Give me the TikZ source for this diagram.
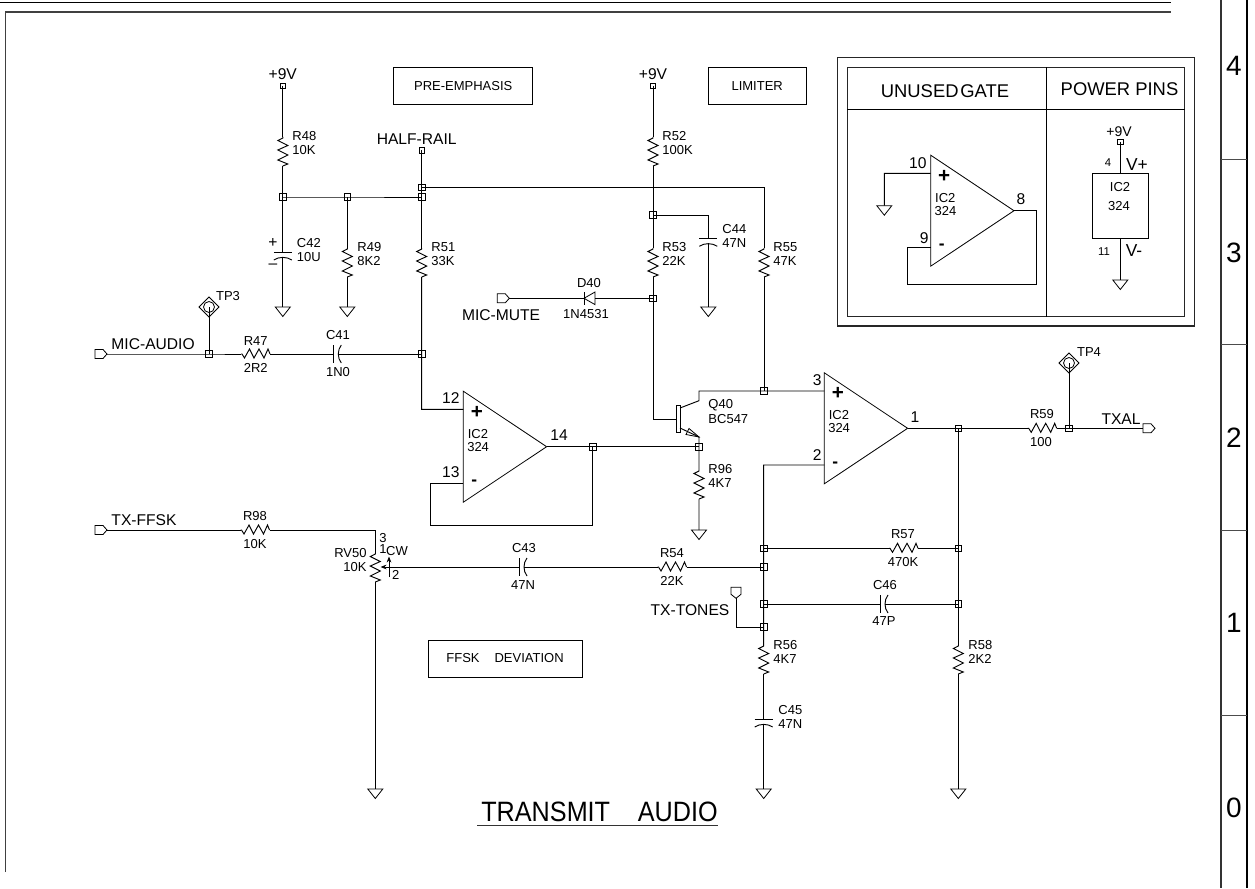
\documentclass[tikz,border=0pt]{standalone}
\usepackage{fontspec}
\setmainfont{Liberation Sans}
\usetikzlibrary{arrows.meta}
\newcommand{\fsm}{\fontsize{9.75}{11}\selectfont}
\newcommand{\fmd}{\fontsize{11.7}{13}\selectfont}
\newcommand{\flg}{\fontsize{13.8}{15}\selectfont}
\newcommand{\fdg}{\fontsize{21}{23}\selectfont}
\tikzset{
  every path/.style={line width=.7pt},
  junc/.style={draw,rectangle,inner sep=0,minimum size=5pt,line width=.55pt},
  supl/.style={draw,rectangle,inner sep=0,minimum size=4pt,line width=.55pt},
  lab/.style={inner sep=0,font=\fsm},
  med/.style={inner sep=0,font=\fmd},
  labbox/.style={draw,inner sep=0,font=\fsm,line width=.6pt},
  tiny arrow/.style={-{Stealth[length=4.5pt,width=3.5pt]}},
  resv/.pic={\coordinate (-a) at (0,0);\coordinate (-b) at (0,29);
    \draw (0,0)--(0,1)--(-5,3.5)--(5,8.5)--(-5,13)--(5,18)--(-5,23)--(5,27)--(0,29);},
  resh/.pic={\coordinate (-a) at (0,0);\coordinate (-b) at (29,0);
    \draw (0,0)--(1,0)--(3.5,4)--(8.5,-5)--(13,4)--(18,-5)--(23,4)--(27,-5)--(29,0);},
  capv/.pic={\coordinate (-a) at (0,0);\coordinate (-b) at (0,5);
    \draw (-9,0)--(9,0);\draw (-9,8) .. controls (-4,4.5) and (4,4.5) .. (9,8);},
  caph/.pic={\coordinate (-a) at (0,0);\coordinate (-b) at (5,0);
    \draw (0,-9)--(0,9);\draw (8,-9) .. controls (4,-4) and (4,4) .. (8,9);},
  gnd/.pic={\coordinate (-top) at (0,0);
    \draw[line width=.6pt] (-7.5,0)--(7.5,0)--(0,9.5)--cycle;},
  portr/.pic={\coordinate (-in) at (0,0);\coordinate (-tip) at (12,0);
    \draw[line width=.6pt] (0,-4.5)--(8,-4.5)--(12,0)--(8,4.5)--(0,4.5)--cycle;},
  portd/.pic={\coordinate (-tip) at (0,11);
    \draw[line width=.6pt] (-5,0)--(5,0)--(5,7)--(0,11)--(-5,7)--cycle;},
  tpoint/.pic={\coordinate (-c) at (0,0);
    \draw[line width=.6pt] (0,-10)--(10,0)--(0,10)--(-10,0)--cycle;
    \draw[line width=.6pt] (0,0) circle[radius=5.5];},
  opamp/.pic={\coordinate (-plus) at (0,-37.3);\coordinate (-minus) at (0,36.7);\coordinate (-out) at (83.3,0);
    \draw[line width=.6pt] (0,-55.5)--(83.3,0)--(0,55.5)--cycle;
    \node[inner sep=0,font=\bfseries\fontsize{15.5}{16}\selectfont] (-p) at (13.5,-34.5) {+};
    \node[inner sep=0,font=\bfseries\fontsize{13}{14}\selectfont] (-m) at (11,36.5) {-};
    \node[lab,anchor=west] (-i) at (4,-13) {IC2};
    \node[lab,anchor=west] (-n) at (3.5,0) {324};},
}
\begin{document}
\begin{tikzpicture}[x=.75pt,y=-.75pt]
\useasboundingbox (0,0) rectangle (1255,888);
% ---- sheet frame
\coordinate (ft1) at (0,2.5);\coordinate (ft2) at (1171,2.5);
\coordinate (fu1) at (5.5,872);\coordinate (fu2) at (5.5,12);\coordinate (fu3) at (1171,12);
\draw[line width=1pt] (ft1)--(ft2);
\draw[line width=1pt,black!75] (fu1)--(fu2)--(fu3);
\coordinate (sa1) at (1221,0);\coordinate (sa2) at (1221,888);
\coordinate (sb1) at (1247,0);\coordinate (sb2) at (1247,888);
\draw[line width=1.1pt,black!80] (sa1)--(sa2);
\draw[line width=1.1pt] (sb1)--(sb2);
\foreach \n/\y in {d1/159.5,d2/344.5,d3/530,d4/715}{
  \coordinate (\n a) at (1221,\y);\coordinate (\n b) at (1247,\y);
  \draw[black!70] (\n a)--(\n b);}
\foreach \t/\y in {4/66,3/253,2/438,1/623,0/808}{
  \node[inner sep=0,font=\fdg] (zone\t) at (1234,\y) {\t};}
% ---- text boxes
\node[labbox,minimum width=104.25pt,minimum height=27.75pt] (bpre) at (463.2,85.7) {PRE-EMPHASIS};
\node[labbox,minimum width=73.5pt,minimum height=27.75pt] (blim) at (757.2,85.7) {LIMITER};
\node[labbox,minimum width=115.5pt,minimum height=27.75pt] (bffsk) at (505,658.5) {FFSK\hspace{1.15em}DEVIATION};
% ---- supplies
\node[supl] (s1) at (282.8,85.7) {};
\node[med] (ls1) at (282.8,74.5) {+9V};
\node[supl] (hr) at (421.7,150.5) {};
\node[med] (lhr) at (416.7,139) {HALF-RAIL};
\node[supl] (s2) at (653,85.7) {};
\node[med] (ls2) at (653,74.5) {+9V};
% ---- junctions
\node[junc] (j1) at (282.8,197) {};
\node[junc] (j2) at (347.3,197) {};
\node[junc] (j3) at (421.7,197) {};
\node[junc] (j4) at (421.7,187.3) {};
\node[junc] (j5) at (421.7,354) {};
\node[junc] (j6) at (653,215) {};
\node[junc] (j7) at (653,298.3) {};
\node[junc] (j8) at (764,391) {};
\node[junc] (j9) at (592.7,446.7) {};
\node[junc] (j10) at (699,446.7) {};
\node[junc] (j11) at (209,354) {};
\node[junc] (j12) at (958.3,428.3) {};
\node[junc] (j13) at (1069,428.3) {};
\node[junc] (j14) at (763.7,548.3) {};
\node[junc] (j15) at (763.7,567) {};
\node[junc] (j16) at (763.7,604) {};
\node[junc] (j17) at (763.7,627) {};
\node[junc] (j18) at (958.3,548.3) {};
\node[junc] (j19) at (958.3,604) {};
% ---- parts
\pic (r48) at (282.8,137) {resv};
\node[lab,anchor=west] (tr48) at (292,136) {R48};
\node[lab,anchor=west] (vr48) at (292,150) {10K};
\pic (c42) at (282.8,252) {capv};
\node[med] (c42p) at (273,243) {+};
\node[med] (c42m) at (273,266) {–};
\node[lab,anchor=west] (tc42) at (296.5,243) {C42};
\node[lab,anchor=west] (vc42) at (296.5,257.5) {10U};
\pic (g1) at (282.8,307) {gnd};
\pic (r49) at (347.3,248) {resv};
\node[lab,anchor=west] (tr49) at (357,247) {R49};
\node[lab,anchor=west] (vr49) at (357,261) {8K2};
\pic (g2) at (347.3,307) {gnd};
\pic (r51) at (421.7,248) {resv};
\node[lab,anchor=west] (tr51) at (431,247) {R51};
\node[lab,anchor=west] (vr51) at (431,261) {33K};
\pic (r52) at (653,137) {resv};
\node[lab,anchor=west] (tr52) at (662,136) {R52};
\node[lab,anchor=west] (vr52) at (662,150) {100K};
\pic (r53) at (653,248) {resv};
\node[lab,anchor=west] (tr53) at (662,247) {R53};
\node[lab,anchor=west] (vr53) at (662,261) {22K};
\pic (c44) at (708.3,238.3) {capv};
\node[lab,anchor=west] (tc44) at (722,229) {C44};
\node[lab,anchor=west] (vc44) at (722,243) {47N};
\pic (g3) at (708.3,307) {gnd};
\pic (r55) at (764,248) {resv};
\node[lab,anchor=west] (tr55) at (773,247) {R55};
\node[lab,anchor=west] (vr55) at (773,261) {47K};
\pic (pma) at (95,354) {portr};
\node[med,anchor=west] (lma) at (111,344.5) {MIC-AUDIO};
\pic (tp3) at (209,307) {tpoint};
\node[lab] (ltp3) at (228,296) {TP3};
\pic (r47) at (241,354) {resh};
\node[lab] (tr47) at (255.7,341) {R47};
\node[lab] (vr47) at (255.7,368) {2R2};
\pic (c41) at (333.3,354) {caph};
\node[lab] (tc41) at (338,335) {C41};
\node[lab] (vc41) at (338,372) {1N0};
\pic (pmm) at (497.3,298.3) {portr};
\node[med] (lmm) at (501,315.5) {MIC-MUTE};
\coordinate (d40k) at (584,298.3);\coordinate (d40a) at (595,298.3);
\draw[line width=.6pt] (584,292)--(584,304.6);
\draw[line width=.6pt] (d40k)--(595,292)--(595,304.6)--cycle;
\node[lab] (td40) at (589,283) {D40};
\node[lab] (vd40) at (586,314) {1N4531};
% ---- op-amps
\pic (op1) at (463.3,446.7) {opamp};
\node[med,anchor=east] (p12) at (460,398) {12};
\node[med,anchor=east] (p13) at (460,472) {13};
\node[med] (p14) at (559,435) {14};
\pic (op2) at (824.3,428.3) {opamp};
\node[med,anchor=east] (p3) at (822,380) {3};
\node[med,anchor=east] (p2) at (822,455) {2};
\node[med] (p1) at (915,417) {1};
% ---- transistor
\node[draw,inner sep=0,minimum width=3pt,minimum height=20.8pt,line width=.6pt] (q40) at (678,419) {};
\coordinate (qc) at (680,408);\coordinate (qc2) at (699,400.7);\coordinate (qc3) at (699,391);
\coordinate (qe) at (680,428);\coordinate (qe2) at (699,437);\coordinate (qb) at (676,419);
\draw[line width=.6pt] (qe2)--(689,428.5)--(686,434.5)--cycle;
\node[lab,anchor=west] (tq40) at (708,405) {Q40};
\node[lab,anchor=west] (vq40) at (708,419) {BC547};
\pic (r96) at (699,470) {resv};
\node[lab,anchor=west] (tr96) at (708,469) {R96};
\node[lab,anchor=west] (vr96) at (708,483) {4K7};
\pic (g4) at (699,530) {gnd};
% ---- lower chain
\pic (pff) at (95,530) {portr};
\node[med,anchor=west] (lff) at (111,520) {TX-FFSK};
\pic (r98) at (240.5,530) {resh};
\node[lab] (tr98) at (255,516) {R98};
\node[lab] (vr98) at (255,544) {10K};
\coordinate (cpot) at (375.3,530);
\pic (rv) at (375.3,553) {resv};
\coordinate (rvw) at (380.5,567);
\node[lab,anchor=east] (trv) at (367,553) {RV50};
\node[lab,anchor=east] (vrv) at (367,567) {10K};
\node[lab] (pv3) at (383,538) {3};
\node[lab] (pv1) at (383,549) {1};
\node[lab] (pvc) at (397,551) {CW};
\node[lab] (pv2) at (395.7,575) {2};
\coordinate (cwa) at (389,577);\coordinate (cwb) at (389,556.5);
\draw[tiny arrow,line width=.6pt] (cwa)--(cwb);
\pic (g5) at (375.3,789) {gnd};
\pic (c43) at (519,567) {caph};
\node[lab] (tc43) at (524,548) {C43};
\node[lab] (vc43) at (523,585) {47N};
\pic (r54) at (657.5,567) {resh};
\node[lab] (tr54) at (672,553) {R54};
\node[lab] (vr54) at (672,581) {22K};
\pic (r57) at (889,548.3) {resh};
\node[lab] (tr57) at (903,534) {R57};
\node[lab] (vr57) at (903,562) {470K};
\pic (c46) at (880,604) {caph};
\node[lab] (tc46) at (885,585) {C46};
\node[lab] (vc46) at (884,621) {47P};
\pic (ptt) at (736,587.3) {portd};
\coordinate (ptc) at (736,627);
\node[med] (ltt) at (690,610) {TX-TONES};
\pic (r56) at (763.7,645) {resv};
\node[lab,anchor=west] (tr56) at (773,645) {R56};
\node[lab,anchor=west] (vr56) at (773,659) {4K7};
\pic (c45) at (763.7,719) {capv};
\node[lab,anchor=west] (tc45) at (778,710) {C45};
\node[lab,anchor=west] (vc45) at (778,724) {47N};
\pic (g6) at (763.7,789) {gnd};
\pic (r58) at (958.3,645) {resv};
\node[lab,anchor=west] (tr58) at (968,645) {R58};
\node[lab,anchor=west] (vr58) at (968,659) {2K2};
\pic (g7) at (958.3,789) {gnd};
\pic (r59) at (1027.7,428.3) {resh};
\node[lab] (tr59) at (1042,414) {R59};
\node[lab] (vr59) at (1041,442) {100};
\pic (tp4) at (1069,363) {tpoint};
\node[lab] (ltp4) at (1089,352) {TP4};
\pic (ptx) at (1143,428.3) {portr};
\node[med] (ltx) at (1121,419) {TXAL};
% ---- wires
\draw (s1.center)--(r48-a) (r48-b)--(j1.center)--(c42-a) (c42-b)--(g1-top);
\draw (j1.center)--(j2.center)--(j3.center);
\draw (j2.center)--(r49-a) (r49-b)--(g2-top);
\draw (hr.center)--(j4.center)--(j3.center)--(r51-a);
\coordinate (n1) at (421.7,409.4);
\draw (r51-b)--(j5.center)--(n1)--(op1-plus);
\coordinate (n2) at (764,187.3);
\draw (j4.center)--(n2)--(r55-a) (r55-b)--(j8.center);
\draw (pma-tip)--(j11.center)--(r47-a) (r47-b)--(c41-a) (c41-b)--(j5.center);
\draw (tp3-c)--(j11.center);
\draw (s2.center)--(r52-a) (r52-b)--(j6.center)--(r53-a) (r53-b)--(j7.center);
\coordinate (n3) at (708.3,215);
\draw (j6.center)--(n3)--(c44-a) (c44-b)--(g3-top);
\draw (pmm-tip)--(d40k) (d40a)--(j7.center);
\coordinate (n4) at (653,419);
\draw (j7.center)--(n4)--(qb);
\draw (qc)--(qc2)--(qc3)--(j8.center)--(op2-plus);
\draw (qe)--(qe2)--(j10.center)--(r96-a) (r96-b)--(g4-top);
\draw (op1-out)--(j9.center)--(j10.center);
\coordinate (n5) at (430.7,483.4);\coordinate (n6) at (430.7,525);\coordinate (n7) at (592.7,525);
\draw (op1-minus)--(n5)--(n6)--(n7)--(j9.center);
\draw (pff-tip)--(r98-a) (r98-b)--(cpot)--(rv-a) (rv-b)--(g5-top);
\draw[tiny arrow] (c43-a)--(rvw);
\draw (c43-b)--(r54-a) (r54-b)--(j15.center);
\coordinate (n8) at (763.7,465);
\draw (op2-minus)--(n8)--(j14.center)--(j15.center)--(j16.center)--(j17.center)--(r56-a);
\draw (r56-b)--(c45-a) (c45-b)--(g6-top);
\draw (j14.center)--(r57-a) (r57-b)--(j18.center);
\draw (j16.center)--(c46-a) (c46-b)--(j19.center);
\draw (ptt-tip)--(ptc)--(j17.center);
\draw (op2-out)--(j12.center)--(r59-a) (r59-b)--(j13.center)--(ptx-in);
\draw (tp4-c)--(j13.center);
\draw (j12.center)--(j18.center)--(j19.center)--(r58-a) (r58-b)--(g7-top);
% ---- inset
\node[draw,inner sep=0,minimum width=267.75pt,minimum height=201.5pt,line width=.9pt,black!85] (outer) at (1015.8,191.6) {};
\node[draw,inner sep=0,minimum width=253pt,minimum height=187pt,line width=.9pt,black!85] (inner) at (1016.2,192) {};
\coordinate (iv1) at (1046,67.3);\coordinate (iv2) at (1046,316.7);
\coordinate (ih1) at (847.3,109);\coordinate (ih2) at (1185,109);
\draw[line width=.7pt] (iv1)--(iv2);\draw[line width=.7pt] (ih1)--(ih2);
\node[inner sep=0,font=\flg] (lug) at (945,91) {UNUSED\hspace{.1em}GATE};
\node[inner sep=0,font=\flg] (lpp) at (1119.5,89) {POWER PINS};
\pic (op3) at (930.7,210.7) {opamp};
\node[med,anchor=east] (p10) at (927,163) {10};
\node[med,anchor=east] (p9) at (929,238) {9};
\node[med] (p8) at (1021,199) {8};
\coordinate (u1) at (884.3,173.4);
\pic (g8) at (884.3,205.7) {gnd};
\draw (op3-plus)--(u1)--(g8-top);
\coordinate (u2) at (907.3,247.4);\coordinate (u3) at (907.3,284.7);\coordinate (u4) at (1036.7,284.7);\coordinate (u5) at (1036.7,210.7);
\draw (op3-minus)--(u2)--(u3)--(u4)--(u5)--(op3-out);
\node[inner sep=0,font=\fontsize{10.5}{12}\selectfont] (ls3) at (1119,131.7) {+9V};
\node[supl] (s3) at (1120.3,141.7) {};
\node[draw,inner sep=0,minimum width=42pt,minimum height=48.75pt,line width=.7pt] (ic) at (1120.3,205.8) {};
\node[lab] (ict) at (1120,187) {IC2};
\node[lab] (icn) at (1119,206) {324};
\node[inner sep=0,font=\fontsize{8.5}{10}\selectfont] (p4) at (1108,163) {4};
\node[inner sep=0,font=\fontsize{8.5}{10}\selectfont] (p11) at (1104,252) {11};
\node[inner sep=0,font=\fontsize{13}{14}\selectfont] (lvp) at (1137,165) {V+};
\node[inner sep=0,font=\fontsize{13}{14}\selectfont] (lvm) at (1134,251) {V-};
\pic (g9) at (1120.3,280) {gnd};
\draw (s3.center)--(ic.north -| s3.center);
\draw (ic.south -| s3.center)--(g9-top);
% ---- title
\node[inner sep=0,font=\fontsize{21}{23}\selectfont] (title) at (599.5,811.5) {\scalebox{.9}[1]{TRANSMIT\hspace{1.1em}AUDIO}};
\coordinate (tu1) at (477,825.7);\coordinate (tu2) at (717.5,825.7);
\draw[line width=1pt,black!80] (tu1)--(tu2);
\end{tikzpicture}
\end{document}
